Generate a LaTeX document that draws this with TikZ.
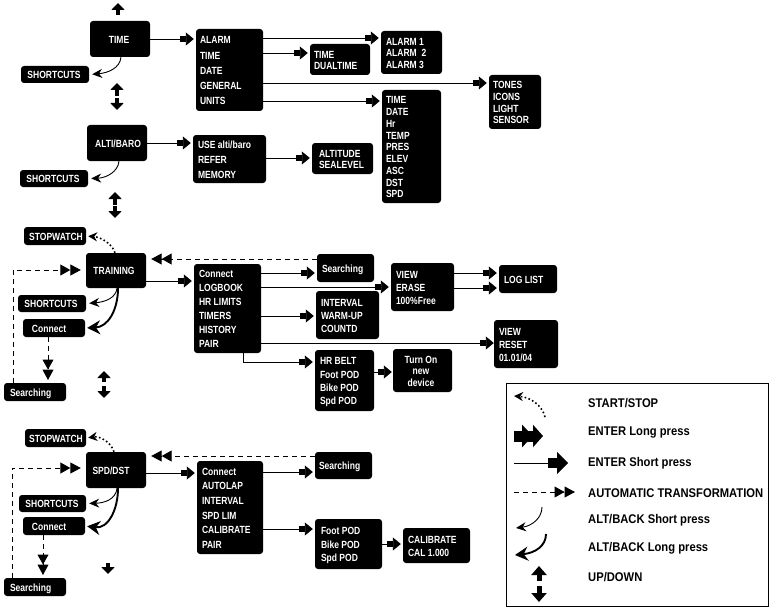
\documentclass[tikz,border=0pt]{standalone}
\usepackage{fontspec}
\setmainfont{Liberation Sans}[FakeStretch=0.82]
\newfontfamily\lgdfont{Liberation Sans}[FakeStretch=0.89]
\usetikzlibrary{arrows.meta,calc}
\tikzset{
  box/.style={fill=black,text=white,rounded corners=3pt,inner sep=0pt,font=\bfseries},
  enter/.style={line width=0.9pt,shorten >=2pt,-{Rectangle[length=6pt,width=6.5pt,sep=0pt]Triangle[length=8pt,width=13pt]}},
  longenter/.style={line width=0.9pt,shorten >=2pt,-{Rectangle[length=9pt,width=9.5pt,sep=0pt]Triangle[length=11pt,width=22pt]}},
  autotrans/.style={line width=1pt,dash pattern=on 5pt off 4pt,shorten >=5pt,-{Triangle[length=10pt,width=11pt,sep=0pt]Triangle[length=10.5pt,width=11pt]}},
  autoshort/.style={autotrans,shorten >=1pt},
  backshort/.style={line width=0.9pt,shorten >=3pt,-{Stealth[length=10pt,width=9pt]}},
  backlong/.style={line width=1.9pt,shorten >=2pt,-{Stealth[length=13pt,width=14pt]}},
  startstop/.style={line width=1.6pt,dash pattern=on 1.6pt off 2.4pt,shorten >=2pt,-{Stealth[length=9pt,width=9pt]}},
  updown/.style={line width=4.5pt,-{Triangle[length=7pt,width=13pt]}},
  updownbig/.style={line width=5pt,-{Triangle[length=9pt,width=15pt]}},
  lgdlabel/.style={anchor=west,inner sep=0pt,font=\lgdfont\fontsize{12.6}{14}\selectfont\bfseries},
  legendbox/.style={draw,line width=1pt,inner sep=0pt}
}
% left-aligned box: name x1 y1 x2 y2 inset spacing text
\newcommand\bx[8]{\node[box,minimum width={#4-#2},minimum height={#5-#3}] (#1) at ({(#2+#4)/2},{(#3+#5)/2})
  {\makebox[\dimexpr#4pt-#2pt\relax][l]{\hspace*{#6pt}\fontsize{10.4}{#7pt}\selectfont\raisebox{\dimexpr 0.2\dimexpr#7pt\relax-6.8pt\relax}[0pt][0pt]{\begin{tabular}{@{}l@{}}#8\end{tabular}}}};}
% centred text box: name x1 y1 x2 y2 centre-offset spacing text
\newcommand\bxc[8]{\node[box,minimum width={#4-#2},minimum height={#5-#3}] (#1) at ({(#2+#4)/2},{(#3+#5)/2})
  {\makebox[\dimexpr#4pt-#2pt\relax][l]{\hspace*{#6pt}\fontsize{10.4}{#7pt}\selectfont\makebox[0pt][c]{\raisebox{\dimexpr 0.2\dimexpr#7pt\relax-6.8pt\relax}[0pt][0pt]{\begin{tabular}{@{}c@{}}#8\end{tabular}}}}};}
\newcommand\glyph[6]{\coordinate (#1a) at (#3,#4); \coordinate (#1b) at (#3,#5); \draw[#6] (#1a) -- (#1b);}
\begin{document}
\begin{tikzpicture}[x=1pt,y=-1pt]
\useasboundingbox (0,0) rectangle (773,607);
% --- TIME block
\bxc{time}{90}{21}{150}{57}{29}{12}{TIME}
\bxc{scA}{21}{66}{89}{83}{33}{12}{SHORTCUTS}
\bx{menuA}{196}{29}{263}{111}{4}{15.2}{ALARM\\TIME\\DATE\\GENERAL\\UNITS}
\bx{alarm}{381}{31}{442}{74}{5}{11.3}{ALARM 1\\ALARM\ \ 2\\ALARM 3}
\bx{dual}{310}{44}{370}{75}{4}{11.5}{TIME\\DUALTIME}
\bx{tones}{489}{75}{541}{129}{4}{11.7}{TONES\\ICONS\\LIGHT\\SENSOR}
\bx{units}{382}{90}{441}{203}{4}{11.75}{TIME\\DATE\\Hr\\TEMP\\PRES\\ELEV\\ASC\\DST\\SPD}
% --- ALTI/BARO block
\bxc{alti}{87}{125}{147}{161}{31}{12}{ALTI/BARO}
\bxc{scB}{20}{170}{88}{187}{33}{12}{SHORTCUTS}
\bx{menuB}{193}{135}{266}{183}{5}{15}{USE alti/baro\\REFER\\MEMORY}
\bx{altitude}{312}{143}{373}{174}{7}{11.5}{ALTITUDE\\SEALEVEL}
% --- TRAINING block
\bxc{swC}{24}{227}{86}{245}{32}{12}{STOPWATCH}
\bxc{training}{86}{253}{146}{288}{28}{12}{TRAINING}
\bxc{scC}{18}{295}{86}{312}{33}{12}{SHORTCUTS}
\bx{connC}{23}{319}{85}{337}{9}{12}{Connect}
\bx{searchC}{4}{383}{66}{401}{6}{12}{Searching}
\bx{menuC}{194}{264}{261}{353}{5}{14}{Connect\\LOGBOOK\\HR LIMITS\\TIMERS\\HISTORY\\PAIR}
\bx{searchD}{317}{254}{374}{282}{5}{12}{Searching}
\bx{view}{391}{263}{454}{311}{5}{13}{VIEW\\ERASE\\100\%Free}
\bx{loglist}{499}{265}{557}{293}{5}{12}{LOG LIST}
\bx{interval}{316}{291}{379}{339}{5}{13}{INTERVAL\\WARM-UP\\COUNTD}
\bx{reset}{494}{320}{558}{368}{5}{13}{VIEW\\RESET\\01.01/04}
\bx{belt}{315}{350}{374}{411}{5}{13.4}{HR BELT\\Foot POD\\Bike POD\\Spd POD}
\bxc{turnon}{393}{349}{452}{392}{28}{11.5}{Turn On\\new\\device}
% --- SPD/DST block
\bxc{swE}{25}{429}{86}{447}{31}{12}{STOPWATCH}
\bxc{spd}{86}{452}{146}{488}{25}{12}{SPD/DST}
\bxc{scE}{19}{495}{86}{512}{33}{12}{SHORTCUTS}
\bx{connE}{23}{517}{85}{535}{9}{12}{Connect}
\bx{searchE}{4}{578}{66}{596}{6}{12}{Searching}
\bx{menuE}{197}{461}{263}{554}{5}{14.6}{Connect\\AUTOLAP\\INTERVAL\\SPD LIM\\CALIBRATE\\PAIR}
\bx{searchF}{315}{452}{372}{479}{4}{12}{Searching}
\bx{pods}{315}{519}{382}{569}{6}{13.4}{Foot POD\\Bike POD\\Spd POD}
\bx{calib}{403}{528}{470}{563}{5}{13.5}{CALIBRATE\\CAL 1.000}
% --- connectors TIME
\draw[enter] (time.east |- 0,39) -- (menuA.west |- 0,39);
\draw[enter] (menuA.east |- 0,38) -- (alarm.west |- 0,38);
\draw[enter] (menuA.east |- 0,53) -- (dual.west |- 0,53);
\draw[enter] (menuA.east |- 0,83) -- (tones.west |- 0,83);
\draw[enter] (menuA.east |- 0,101) -- (units.west |- 0,101);
\draw[backshort] (time.south -| 121,0) .. controls (120,68) and (108,73) .. (scA.east);
% --- connectors ALTI/BARO
\draw[enter] (alti.east |- 0,143) -- (menuB.west |- 0,143);
\draw[enter] (menuB.east |- 0,158) -- (altitude.west |- 0,158);
\draw[backshort] (alti.south -| 119,0) .. controls (118,172) and (106,178) .. (scB.east);
% --- connectors TRAINING
\draw[startstop] (training.north -| 115,0) .. controls (112,243) and (100,237) .. (swC.east);
\draw[autotrans] (searchC.north -| 13,0) -- (13,270) -- (training.west |- 0,270);
\draw[autotrans] (searchD.west |- 0,259) -- (training.east |- 0,259);
\draw[autoshort] (connC.south -| 48,0) -- (48,381);
\draw[backshort] (training.south -| 117,0) .. controls (116,298) and (105,302) .. (scC.east);
\draw[backlong] (training.south -| 118,0) .. controls (118,310) and (108,327) .. (connC.east);
\draw[enter] (training.east |- 0,281) -- (menuC.west |- 0,281);
\draw[enter] (menuC.east |- 0,273) -- (searchD.west |- 0,273);
\draw[enter] (menuC.east |- 0,287) -- (view.west |- 0,287);
\draw[enter] (menuC.east |- 0,316) -- (interval.west |- 0,316);
\draw[enter,shorten >=0pt] (menuC.east |- 0,343) -- (reset.west |- 0,343);
\draw[enter] (menuC.south -| 243,0) -- (243,362) -- (belt.west |- 0,362);
\draw[enter,shorten >=1pt] (belt.east |- 0,372) -- (turnon.west |- 0,372);
\draw[enter] (view.east |- 0,273) -- (loglist.west |- 0,273);
\draw[enter] (view.east |- 0,288) -- (loglist.west |- 0,288);
% --- connectors SPD/DST
\draw[startstop] (spd.north -| 114,0) .. controls (111,442) and (100,436) .. (swE.east);
\draw[autotrans] (searchE.north -| 12,0) -- (12,468) -- (spd.west |- 0,468);
\draw[autotrans] (searchF.west |- 0,456) -- (spd.east |- 0,456);
\draw[autoshort] (connE.south -| 43,0) -- (43,576);
\draw[backshort] (spd.south -| 117,0) .. controls (116,499) and (105,503) .. (scE.east);
\draw[backlong] (spd.south -| 118,0) .. controls (118,510) and (108,529) .. (connE.east);
\draw[enter] (spd.east |- 0,473) -- (menuE.west |- 0,473);
\draw[enter] (menuE.east |- 0,472) -- (searchF.west |- 0,472);
\draw[enter] (menuE.east |- 0,529) -- (pods.west |- 0,529);
\draw[enter] (pods.east |- 0,544) -- (calib.west |- 0,544);
% --- up/down glyphs
\glyph{ua}{}{118}{15}{3}{updown}
\glyph{ub}{}{117}{96}{83}{updown}
\glyph{uc}{}{117}{98}{110}{updown}
\glyph{ud}{}{115}{205}{192}{updown}
\glyph{ue}{}{115}{206}{218}{updown}
\glyph{uf}{}{104}{382}{371}{updown}
\glyph{ug}{}{104}{386}{398}{updown}
\glyph{uh}{}{108}{563}{574}{updown}
% --- legend
\node[legendbox,minimum width=262,minimum height=223] (legend) at (637,494.5) {};
\coordinate (lgSSa) at (545,417); \coordinate (lgSSb) at (514,396);
\draw[startstop,shorten >=0pt] (lgSSa) .. controls (542,405) and (530,397) .. (lgSSb);
\coordinate (lgLa) at (514,436); \coordinate (lgLb) at (543,436);
\draw[line width=11pt,-{Triangle[length=11pt,width=22pt,sep=0pt]Triangle[length=10pt,width=22pt]}] (lgLa) -- (lgLb);
\coordinate (lgSa) at (514,463); \coordinate (lgSb) at (568,463);
\draw[longenter,shorten >=0pt] (lgSa) -- (lgSb);
\coordinate (lgAa) at (514,492); \coordinate (lgAb) at (575,492);
\draw[autotrans,shorten >=0pt] (lgAa) -- (lgAb);
\coordinate (lgBSa) at (542,507); \coordinate (lgBSb) at (516,528);
\draw[backshort,shorten >=0pt] (lgBSa) .. controls (542,518) and (532,526) .. (lgBSb);
\coordinate (lgBLa) at (546,534); \coordinate (lgBLb) at (515,555);
\draw[backlong,shorten >=0pt] (lgBLa) .. controls (546,546) and (535,553) .. (lgBLb);
\glyph{lgU}{}{539}{581}{566}{updownbig}
\glyph{lgD}{}{539}{586}{602}{updownbig}
\node[lgdlabel] (lt1) at (588,403) {START/STOP};
\node[lgdlabel] (lt2) at (588,432) {ENTER Long press};
\node[lgdlabel] (lt3) at (588,463) {ENTER Short press};
\node[lgdlabel] (lt4) at (588,493) {AUTOMATIC TRANSFORMATION};
\node[lgdlabel] (lt5) at (588,520) {ALT/BACK Short press};
\node[lgdlabel] (lt6) at (588,548) {ALT/BACK Long press};
\node[lgdlabel] (lt7) at (588,577) {UP/DOWN};
\end{tikzpicture}
\end{document}
